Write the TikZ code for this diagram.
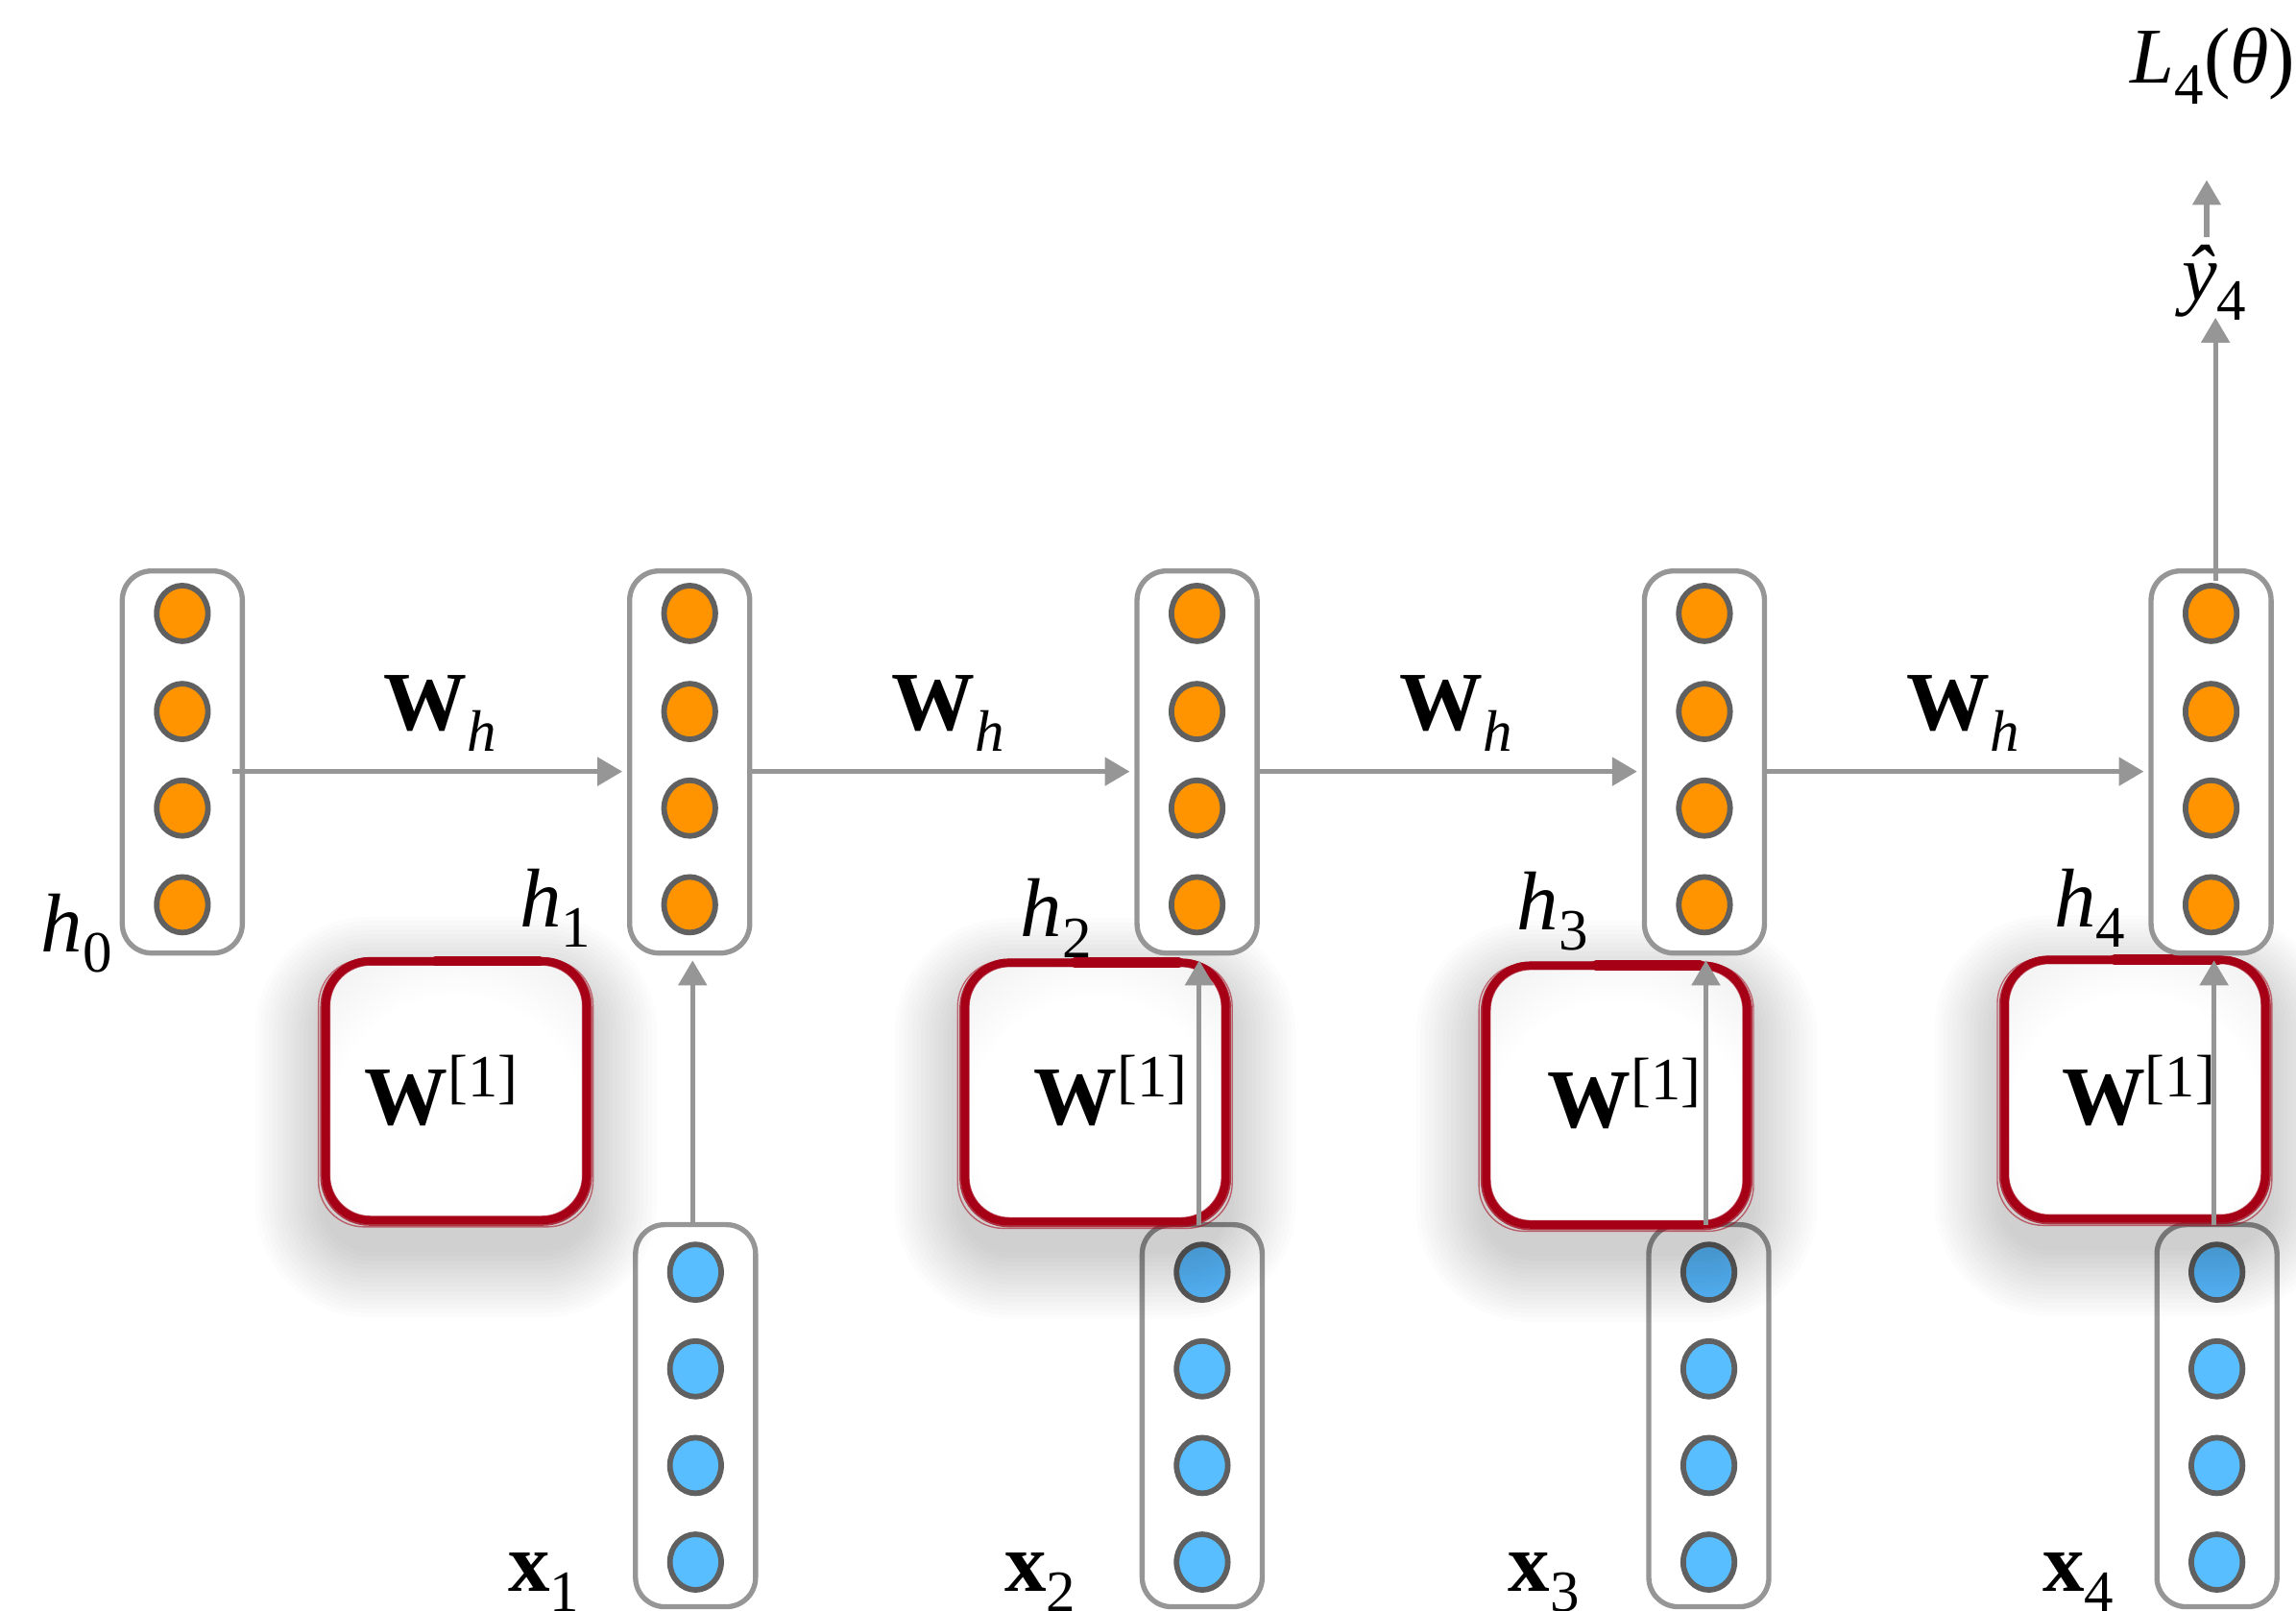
\documentclass[tikz,border=0pt]{standalone}
\usepackage{fontspec}
\setmainfont{Liberation Serif}
\usetikzlibrary{arrows.meta,calc,shapes.geometric}

\definecolor{orng}{RGB}{255,148,0}
\definecolor{blu}{RGB}{88,190,255}
\definecolor{ring}{RGB}{96,96,96}
\definecolor{boxg}{RGB}{150,150,150}
\definecolor{arrg}{RGB}{150,150,150}
\definecolor{wred}{RGB}{165,0,21}

\pgfdeclareradialshading{wshade}{\pgfpoint{0bp}{-8bp}}{color(0bp)=(white); color(24bp)=(white); color(50bp)=(black!11); color(100bp)=(black!11)}

\newcommand{\lsub}[1]{\raisebox{-14pt}{\fontsize{40}{40}\selectfont #1}}
\newcommand{\lsup}[1]{\raisebox{19pt}{\fontsize{41}{41}\selectfont #1}}

\tikzset{
  vecbox/.style={draw=boxg, line width=3.5pt, rounded corners=20pt, fill=white,
    minimum width=82pt, minimum height=261pt, inner sep=0pt, outer sep=0pt},
  hcirc/.style={ellipse, draw=ring, line width=3.8pt, fill=orng,
    minimum width=35pt, minimum height=38pt, inner sep=0pt},
  xcirc/.style={hcirc, fill=blu},
  conn/.style={draw=arrg, line width=3.3pt, -{Triangle[length=17pt,width=19pt]}},
  lab/.style={inner sep=0pt, outer sep=0pt, font=\fontsize{57}{60}\selectfont},
  wbox/.style={rectangle, minimum width=178pt, minimum height=177pt, inner sep=0pt, outer sep=0pt},
}

\begin{document}
\begin{tikzpicture}[x=1pt,y=-1pt]
\useasboundingbox (0,0) rectangle (1568,1100);

% input vectors
\foreach \n/\cx in {1/475,2/821,3/1167,4/1514} {
  \node[vecbox] (x\n) at (\cx,967) {};
  \foreach \k/\cy in {1/869,2/935,3/1001,4/1067}
    \node[xcirc] (x\n c\k) at (\cx,\cy) {};
}

% W boxes with shadows
\foreach \n/\cx/\cy in {1/311.5/745, 2/748/746, 3/1104/748, 4/1458/744} {
  \node[wbox] (w\n) at (\cx,\cy) {};
  \foreach \i in {1,...,16} {
    \pgfmathsetmacro\d{\i*3}
    \pgfmathsetmacro\r{30+\d}
    \fill[black, opacity=0.011, rounded corners=\r pt]
      ({\cx-89-\d},{\cy-89-\d+18}) rectangle ({\cx+89+\d},{\cy+89+\d+18});
  }
  \shade[shading=wshade, rounded corners=30pt] (w\n.south west) rectangle (w\n.north east);
  \draw[wred, line width=5.5pt, rounded corners=30pt] (w\n.south west) rectangle (w\n.north east);
  \draw[wred, line width=1.2pt, rounded corners=33pt, opacity=.75]
    ([shift={(-3.2pt,-3.2pt)}]w\n.south west) rectangle ([shift={(3.2pt,2pt)}]w\n.north east);
  \draw[wred, line width=0.9pt, rounded corners=31pt, opacity=.55]
    ([shift={(-5pt,-4.5pt)}]w\n.south west) rectangle ([shift={(4.5pt,1pt)}]w\n.north east);
  \draw[wred, line width=1pt, rounded corners=28pt, opacity=.7]
    ([shift={(2.6pt,2.6pt)}]w\n.south west) rectangle ([shift={(-2.6pt,-2.6pt)}]w\n.north east);
  \draw[wred, line width=7pt, line cap=round]
    ([shift={(75pt,0pt)}]w\n.north west) -- ([shift={(-32pt,0pt)}]w\n.north east);
}

% hidden state vectors
\foreach \n/\cx in {0/124.5,1/471,2/817.5,3/1164,4/1510} {
  \node[vecbox] (h\n) at (\cx,520.5) {};
  \foreach \k/\cy in {1/419,2/486,3/552,4/618}
    \node[hcirc] (h\n c\k) at (\cx,\cy) {};
}

% recurrent arrows
\draw[conn] ([shift={(-7pt,-6.5pt)}]h0.east) -- ([shift={(-5pt,-6.5pt)}]h1.west);
\foreach \a/\b in {1/2,2/3,3/4}
  \draw[conn] ([yshift=-6.5pt]h\a.east) -- ([shift={(-5pt,-6.5pt)}]h\b.west);

% input arrows
\foreach \n in {1,2,3,4}
  \draw[conn] ($(x\n.north)+(-2,0)$) -- ($(x\n.north |- h\n.south)+(-2,5)$);

% labels
\foreach \n/\px in {1/262,2/609,3/956,4/1302}
  \node[lab, anchor=base west] (wh\n) at (\px,499) {\textbf{W}\lsub{\textit{h}}};
\foreach \n/\px/\py in {1/249/768,2/706/768,3/1057/770,4/1408/768}
  \node[lab, anchor=base west] (wl\n) at (\px,\py) {\textbf{W}\lsup{[1]}};
\foreach \n/\px/\py in {0/28/650,1/355/633,2/697/640,3/1036/635,4/1403/633}
  \node[lab, anchor=base west] (hl\n) at (\px,\py) {\textit{h}\lsub{\n}};
\foreach \n/\px in {1/347,2/686,3/1030,4/1395}
  \node[lab, anchor=base west] (xl\n) at (\px,1087) {\textbf{x}\lsub{\n}};

\node[lab, anchor=base west, font=\fontsize{54}{58}\selectfont] (yhat) at (1490,205) {\textit{ŷ}\lsub{4}};
\node[lab, anchor=base west, font=\fontsize{54}{58}\selectfont] (loss) at (1455,57) {\textit{L}\lsub{4}(\textit{θ})};

% output arrows
\draw[conn] ($(h4.north)+(3,7)$) -- ($(h4.north |- yhat.south)+(3,-2)$);
\coordinate (ybase) at (1507,162);
\coordinate (Ltip) at (1507,123);
\draw[conn] (ybase) -- (Ltip);
\end{tikzpicture}
\end{document}
